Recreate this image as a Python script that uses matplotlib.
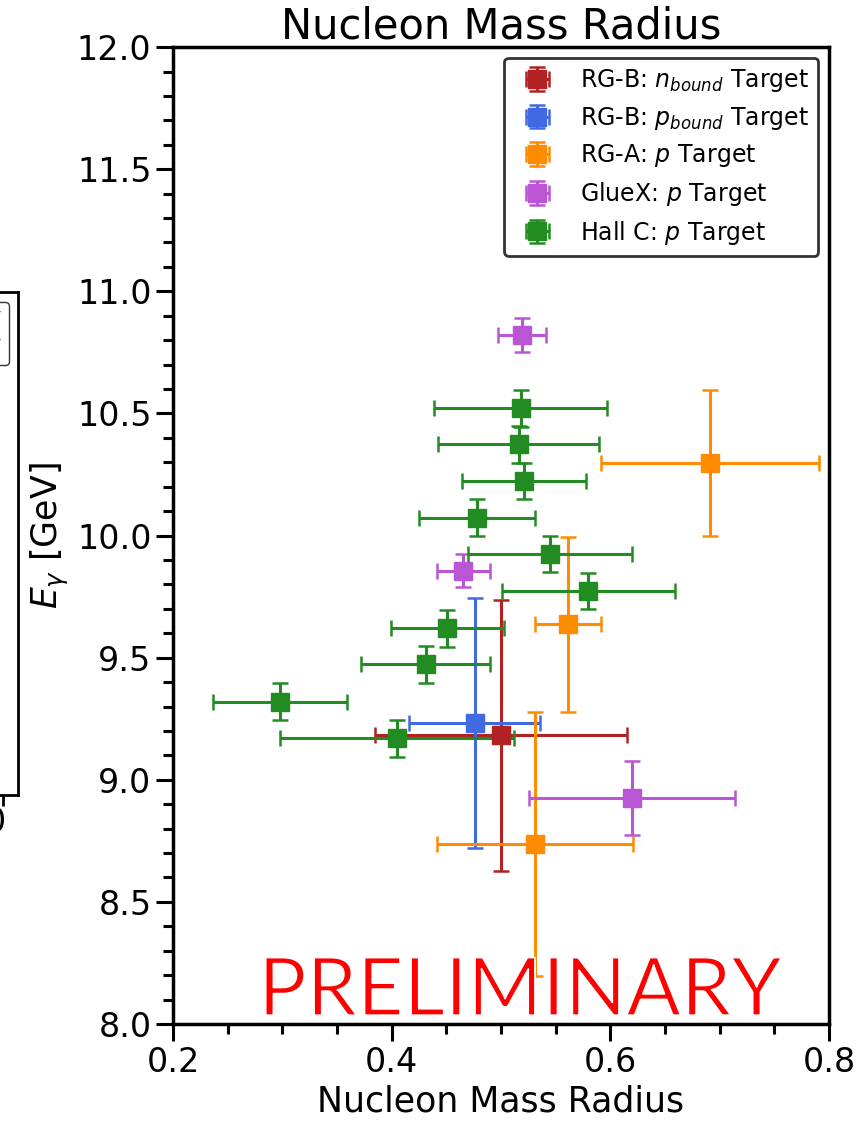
import numpy as np
import matplotlib
matplotlib.use("Agg")
import matplotlib.pyplot as plt
import matplotlib.patheffects as pe
from matplotlib.lines import Line2D

# RG-B bound neutron
nb_x = [0.500]
nb_y = [9.183]
nb_xerr = [0.115]
nb_yerr = [0.555]

# RG-B bound proton
pb_x = [0.476]
pb_y = [9.231]
pb_xerr = [0.060]
pb_yerr = [0.512]

# RG-A proton
rga_x = [0.691, 0.561, 0.531]
rga_y = [10.297, 9.636, 8.736]
rga_xerr = [0.100, 0.030, 0.090]
rga_yerr = [0.300, 0.360, 0.540]

# GlueX proton
gx_x = [0.519, 0.4655, 0.620]
gx_y = [10.821, 9.856, 8.927]
gx_xerr = [0.022, 0.024, 0.094]
gx_yerr = [0.070, 0.068, 0.152]

# Hall C proton
hc_x = [0.518, 0.516, 0.521, 0.478, 0.545, 0.580, 0.451, 0.431, 0.298, 0.405]
hc_y = [10.521, 10.373, 10.223, 10.073, 9.924, 9.773, 9.620, 9.473, 9.320, 9.170]
hc_xerr = [0.079, 0.074, 0.057, 0.053, 0.075, 0.079, 0.052, 0.059, 0.061, 0.107]
hc_yerr = [0.075] * 10

series = [
    (nb_x, nb_y, nb_xerr, nb_yerr, "firebrick", r"RG-B: $n_{bound}$ Target"),
    (pb_x, pb_y, pb_xerr, pb_yerr, "royalblue", r"RG-B: $p_{bound}$ Target"),
    (rga_x, rga_y, rga_xerr, rga_yerr, "darkorange", r"RG-A: $p$ Target"),
    (gx_x, gx_y, gx_xerr, gx_yerr, "mediumorchid", r"GlueX: $p$ Target"),
    (hc_x, hc_y, hc_xerr, hc_yerr, "forestgreen", r"Hall C: $p$ Target"),
]

plt.rcParams["font.family"] = "DejaVu Sans"
plt.rcParams["mathtext.fontset"] = "dejavusans"

fig = plt.figure(figsize=(8.59, 11.21), dpi=100)
ax = fig.add_axes([0.2014, 0.0865, 0.7637, 0.8715])

for x, y, xe, ye, c, lab in series:
    ax.errorbar(x, y, xerr=xe, yerr=ye, fmt="s", color=c, ecolor=c,
                markersize=13, elinewidth=2.2, capsize=6, capthick=1.8,
                label=lab)

ax.set_xlim(0.2, 0.8)
ax.set_ylim(8.0, 12.0)
ax.set_xticks([0.2, 0.4, 0.6, 0.8])
ax.set_xticks(np.arange(0.2, 0.801, 0.05), minor=True)
ax.set_yticks(np.arange(8.0, 12.01, 0.5))
ax.set_yticks(np.arange(8.0, 12.01, 0.1), minor=True)
ax.tick_params(which="major", length=12, width=2.2, labelsize=24, direction="out")
ax.tick_params(which="minor", length=7, width=2.2, direction="out")
for sp in ax.spines.values():
    sp.set_linewidth(2.5)

ax.set_xlabel("Nucleon Mass Radius", fontsize=25)
ax.set_ylabel(r"$E_\gamma$ [GeV]", fontsize=25)
ax.set_title("Nucleon Mass Radius", fontsize=30, pad=5)

leg = ax.legend(loc="upper right", fontsize=17, framealpha=1,
                edgecolor="#333333", borderaxespad=0.45, labelspacing=0.45)
leg.get_frame().set_linewidth(2)

# thin the stroke a bit with a white outline on top of the red fill
ax.text(0.13, 0.009, "PRELIMINARY", transform=ax.transAxes, color="red",
        fontsize=58, family="Lato", fontweight="normal",
        ha="left", va="baseline",
        path_effects=[pe.Stroke(linewidth=1.3, foreground="white")])

# piece of the neighbouring panel cut off at the left edge
ax2 = fig.add_axes([-0.2785, 0.2908, 0.3, 0.4487])
ax2.set_xlim(0, 1)
ax2.set_ylim(0, 1)
ax2.set_yticks([])
ax2.set_xticks([0.94])
ax2.set_xticklabels([""])
ax2.tick_params(length=8, width=2)
for sp in ax2.spines.values():
    sp.set_linewidth(2)
h = [Line2D([], [], color="none")] * 2
leg2 = ax2.legend(h, ["8.5 GeV", "9.5 GeV"], loc="upper right", fontsize=14,
                  handlelength=0, framealpha=1, edgecolor="#333333")
fig.text(6 / 859, 1 - 806 / 1121, "0", fontsize=24, ha="right", va="top")

fig.savefig("out.png", dpi=100)
